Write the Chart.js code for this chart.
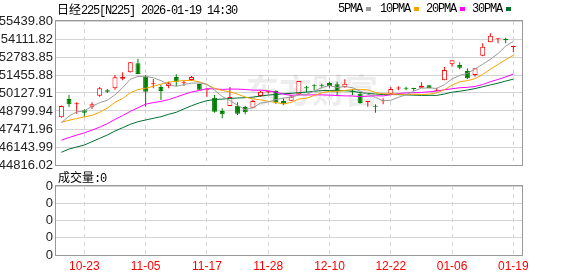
<!DOCTYPE html>
<html>
<head>
<meta charset="utf-8">
<script src="https://cdn.jsdelivr.net/npm/chart.js@4.4.1/dist/chart.umd.min.js"></script>
<style>
  body { margin: 0; background: #fff; width: 578px; height: 276px; overflow: hidden; position: relative; }
  .t { position: absolute; font-size: 12px; line-height: 12px; color: #000; white-space: nowrap; }
  .m { font-family: "Liberation Mono", monospace; letter-spacing: -1.2px; }
  .cjk { font-family: "Noto Sans CJK SC", sans-serif; }
  .sw { position: absolute; width: 5px; height: 4px; top: 7px; }
  #c1 { position: absolute; left: 0; top: 0; }
  #c2 { position: absolute; left: 0; top: 170px; }
</style>
</head>
<body>
<canvas id="c1" width="578" height="176"></canvas>
<canvas id="c2" width="578" height="106"></canvas>

<div class="t" style="left:57px;top:3px"><span class="cjk">日经</span><span class="m">225[N225] 2026-01-19 14:30</span></div>
<div class="t m" style="left:338px;top:3px">5PMA</div><div class="sw" style="left:366px;background:#999"></div>
<div class="t m" style="left:380px;top:3px">10PMA</div><div class="sw" style="left:414px;background:#f5a300"></div>
<div class="t m" style="left:426px;top:3px">20PMA</div><div class="sw" style="left:460px;background:#ff00ff"></div>
<div class="t m" style="left:472px;top:3px">30PMA</div><div class="sw" style="left:506px;background:#006f2e"></div>
<div class="t" style="left:58px;top:171px"><span class="cjk">成交量</span><span class="m">:0</span></div>

<script>
const dates = ["10-20","10-21","10-22","10-23","10-24","10-27","10-28","10-29","10-30","10-31",
  "11-04","11-05","11-06","11-07","11-10","11-11","11-12","11-13","11-14","11-17",
  "11-18","11-19","11-20","11-21","11-25","11-26","11-27","11-28","12-01","12-02",
  "12-03","12-04","12-05","12-08","12-09","12-10","12-11","12-12","12-15","12-16",
  "12-17","12-18","12-19","12-22","12-23","12-24","12-25","12-26","12-29","12-30",
  "01-05","01-06","01-07","01-08","01-09","01-13","01-14","01-15","01-16","01-19"];

const opens = [48335,49685,49294,48851,49117,49928,50327,50474,51183,51655,
  52319,51330,50770,50570,50644,51308,50850,51087,50792,50340,
  49781,48800,49168,49191,49095,49043,49906,50190,50275,49538,
  49560,50032,50540,50660,50700,50866,50770,50570,50260,50076,
  49470,49140,49520,50076,50460,50460,50440,50519,50696,50290,
  51065,52245,52194,51751,51456,52880,53868,54100,54112,53520];
const highs = [49200,49980,49442,48925,49442,50570,50423,51456,51655,52420,
  52658,51456,51161,50718,50962,51507,51013,51382,50820,50370,
  49980,48999,50570,49442,49191,49611,50275,50300,50327,49737,
  49980,51013,50666,50770,50814,50962,50962,51139,50423,50179,
  49500,49294,49737,50570,50622,50593,50519,50917,50720,50519,
  52046,52540,52393,51950,51950,53795,54532,54164,54208,53600];
const lows = [48300,49095,48600,48379,48947,49855,50128,50371,51065,51640,
  51530,49117,50474,49611,50474,50644,50644,51013,50350,49855,
  48674,48261,49168,48505,48556,48999,49855,50100,49338,49242,
  49538,49980,50179,50327,50474,50519,49980,50519,49980,49338,
  49117,48674,49294,50076,50327,50327,50275,50519,50480,50275,
  51065,52068,51876,51161,51330,52836,53868,53795,53795,53131];
const closes = [49169,49294,49310,48674,49294,50474,50224,51286,51330,52393,
  51530,50224,50792,50275,50843,50962,50880,51308,50371,50360,
  48748,48556,49833,48600,48704,49538,50224,50250,49442,49338,
  49855,51013,50474,50622,50666,50622,50275,50814,50224,49390,
  49486,49117,49538,50423,50474,50445,50423,50666,50497,50298,
  51825,52540,51994,51212,51950,53544,54355,54112,54016,53595];

const ma5 = [47937,48420,48730,48806,49148,49409,49595,49990,50522,51141,
  51353,51353,51254,51043,50733,50619,50750,50854,50873,50776,
  50333,49869,49574,49219,48888,49046,49380,49463,49632,49758,
  49822,49980,50024,50260,50526,50679,50532,50600,50520,50265,
  50038,49806,49551,49591,49808,49999,50261,50486,50501,50466,
  50742,51165,51431,51574,51904,52248,52611,53035,53595,53924];
const ma10 = [47960,48118,48245,48365,48480,48706,49020,49440,49720,50145,
  50381,50474,50622,50782,50937,50986,51052,51054,50958,50755,
  50476,50310,50214,50046,49832,49690,49624,49518,49426,49323,
  49434,49680,49744,49946,50142,50251,50256,50312,50390,50396,
  50359,50169,50075,50056,50036,50019,50033,50019,50046,50137,
  50371,50713,50959,51037,51185,51495,51888,52233,52585,52914];
const ma20 = [46646,46841,47018,47190,47385,47609,47864,48180,48461,48775,
  49037,49305,49418,49508,49640,49828,50024,50206,50311,50450,
  50429,50392,50418,50414,50385,50338,50338,50286,50192,50039,
  49955,49995,49979,49996,49987,49970,49940,49915,49908,49859,
  49896,49924,49910,50001,50089,50135,50145,50165,50218,50266,
  50365,50441,50517,50546,50611,50757,50961,51126,51315,51526];
const ma30 = [45753,45996,46144,46291,46535,46786,47029,47324,47568,47818,
  48010,48136,48261,48379,48556,48704,48955,49190,49398,49562,
  49649,49678,49727,49760,49781,49823,49898,49978,50016,50074,
  50097,50154,50193,50258,50304,50309,50310,50295,50258,50158,
  50090,50053,50011,50016,50004,49986,49971,49950,49954,49952,
  50054,50187,50259,50346,50455,50588,50726,50854,51007,51149];

const volumes = [0,0,0,0,0,0,0,0,0,0, 0,0,0,0,0,0,0,0,0,0, 0,0,0,0,0,0,0,0,0,0,
  0,0,0,0,0,0,0,0,0,0, 0,0,0,0,0,0,0,0,0,0, 0,0,0,0,0,0,0,0,0,0];

const yTicks = [44816.02, 46143.99, 47471.96, 48799.94, 50127.91, 51455.88, 52783.85, 54111.82, 55439.80];
const volTicks = [0, 1, 2, 3, 4];
const volTickLabels = ["0", "0", "0", "0", "0"];
const labelIdx = [3, 11, 19, 27, 35, 43, 51, 59];

const RED = "#ff0000";
const GREEN = "#008000";
const GRID = "#d4d4d4";
const up = i => closes[i] >= opens[i];

Chart.defaults.font.family = "'Liberation Sans', Arial, sans-serif";

const frame = {
  id: "frame",
  afterDraw(chart) {
    const a = chart.chartArea;
    const c = chart.ctx;
    c.save();
    c.strokeStyle = "#999";
    c.lineWidth = 1;
    c.strokeRect(Math.round(a.left) - 0.5, Math.round(a.top) - 0.5,
      Math.round(a.right - a.left) + 1, Math.round(a.bottom - a.top) + 1);
    c.restore();
  }
};

const watermark = {
  id: "watermark",
  beforeDatasetsDraw(chart) {
    const c = chart.ctx;
    c.save();
    c.fillStyle = "rgba(0,0,0,0.07)";
    c.font = "bold 33px 'Noto Sans CJK SC'";
    c.textBaseline = "middle";
    c.fillText("东方财富", 246, 90);
    c.restore();
  }
};

function xScale(extra) {
  return Object.assign({
    type: "linear",
    min: -0.7,
    max: 60.13,
    offset: false,
    afterBuildTicks: s => { s.ticks = labelIdx.map(v => ({ value: v })); },
    grid: { color: GRID, drawTicks: false, offset: false },
    border: { display: false, dash: [4, 4] }
  }, extra);
}

function line(data, color) {
  return {
    type: "line",
    data: data.map((v, i) => ({ x: i, y: v })),
    borderColor: color,
    borderWidth: 1,
    pointRadius: 0,
    tension: 0,
    order: 1
  };
}

new Chart(document.getElementById("c1"), {
  type: "bar",
  data: {
    datasets: [
      line(ma5, "#9a9a9a"),
      line(ma10, "#f5a300"),
      line(ma20, "#ff00ff"),
      line(ma30, "#006f2e"),
      {
        type: "bar",
        data: opens.map((o, i) => ({ x: i, y: [o, closes[i]] })),
        backgroundColor: ctx => up(ctx.dataIndex) ? "#ffffff" : GREEN,
        borderColor: ctx => up(ctx.dataIndex) ? RED : GREEN,
        borderWidth: 1,
        borderSkipped: false,
        grouped: false,
        maxBarThickness: 5,
        minBarLength: 1,
        order: 2
      },
      {
        type: "bar",
        data: lows.map((l, i) => ({ x: i, y: [l, highs[i]] })),
        backgroundColor: ctx => up(ctx.dataIndex) ? RED : GREEN,
        borderWidth: 0,
        grouped: false,
        maxBarThickness: 1,
        order: 3
      }
    ]
  },
  options: {
    responsive: false,
    animation: false,
    layout: { padding: { top: 21, right: 56, left: 0, bottom: 0 } },
    plugins: { legend: { display: false }, tooltip: { enabled: false } },
    scales: {
      x: xScale({
        ticks: { display: false },
        afterFit: s => { s.height = 11; }
      }),
      y: {
        min: yTicks[0],
        max: yTicks[yTicks.length - 1],
        afterBuildTicks: s => { s.ticks = yTicks.map(v => ({ value: v })); },
        afterFit: s => { s.width = 56; },
        ticks: {
          callback: v => Number(v).toFixed(2),
          autoSkip: false,
          padding: 3,
          color: "#222",
          font: { size: 13 }
        },
        grid: { color: GRID, drawTicks: false },
        border: { display: false }
      }
    }
  },
  plugins: [watermark, frame]
});

new Chart(document.getElementById("c2"), {
  type: "bar",
  data: {
    datasets: [{
      data: volumes.map((v, i) => ({ x: i, y: v })),
      backgroundColor: GREEN,
      grouped: false
    }]
  },
  options: {
    responsive: false,
    animation: false,
    layout: { padding: { top: 16, right: 56, left: 0, bottom: 0 } },
    plugins: { legend: { display: false }, tooltip: { enabled: false } },
    scales: {
      x: xScale({
        afterFit: s => { s.height = 21; },
        ticks: {
          callback: v => dates[v],
          color: RED,
          padding: 4,
          maxRotation: 0,
          autoSkip: false,
          font: { size: 12 }
        }
      }),
      y: {
        min: volTicks[0],
        max: volTicks[volTicks.length - 1],
        afterBuildTicks: s => { s.ticks = volTicks.map(v => ({ value: v })); },
        afterFit: s => { s.width = 56; },
        ticks: {
          callback: (v, i) => volTickLabels[i],
          autoSkip: false,
          padding: 3,
          color: "#222",
          font: { size: 13 }
        },
        grid: { color: GRID, drawTicks: false },
        border: { display: false }
      }
    }
  },
  plugins: [frame]
});
</script>
</body>
</html>
